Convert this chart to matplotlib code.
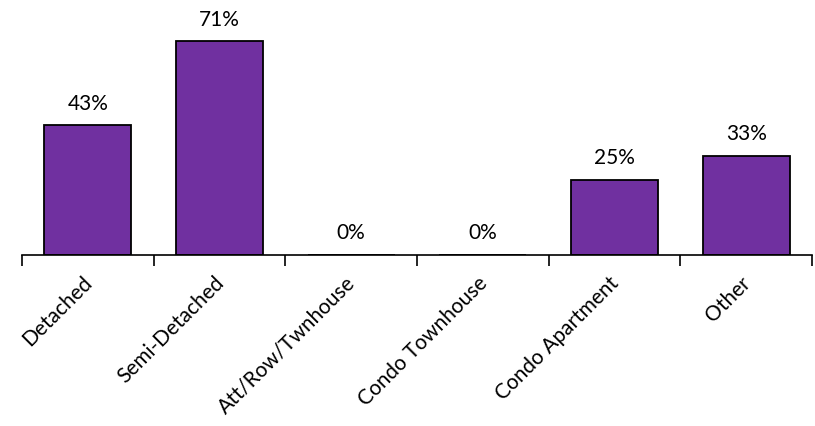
import matplotlib
matplotlib.use("Agg")
import matplotlib.pyplot as plt
import matplotlib.transforms as mtransforms
import numpy as np

categories = ["Detached", "Semi-Detached", "Att/Row/Twnhouse", "Condo Townhouse", "Condo Apartment", "Other"]
values = [43, 71, 0, 0, 25, 33]

plt.rcParams['font.family'] = ['Lato', 'DejaVu Sans']

fig = plt.figure(figsize=(8.15, 4.27), dpi=100)
ax = fig.add_axes([22/815, (427-256)/427, (812-22)/815, 256/427])

x = np.arange(len(categories))
ax.bar(x, values, width=0.66, color="#7030A0", edgecolor="black", linewidth=1.3)
for xi, v in zip(x, values):
    ax.annotate(f"{v}%", (xi, v), xytext=(0, 9), textcoords="offset points",
                ha="center", va="bottom", fontsize=15)

ax.set_xlim(-0.5, len(categories) - 0.5)
ax.set_ylim(0, 85)
for s in ["top", "right", "left"]:
    ax.spines[s].set_visible(False)
ax.spines["bottom"].set_linewidth(1.2)
ax.set_yticks([])
ax.set_xticks(x)
ax.set_xticklabels(categories, rotation=45, ha="right", rotation_mode="anchor", fontsize=15)
ax.tick_params(axis="x", which="major", length=0, pad=12)
shift = mtransforms.ScaledTranslation(-6/100, 0, fig.dpi_scale_trans)
for lbl in ax.get_xticklabels():
    lbl.set_transform(lbl.get_transform() + shift)
ax.set_xticks(np.arange(-0.5, len(categories)), minor=True)
ax.tick_params(axis="x", which="minor", length=8, width=1.2, direction="out")

fig.savefig("out.png", dpi=100)
